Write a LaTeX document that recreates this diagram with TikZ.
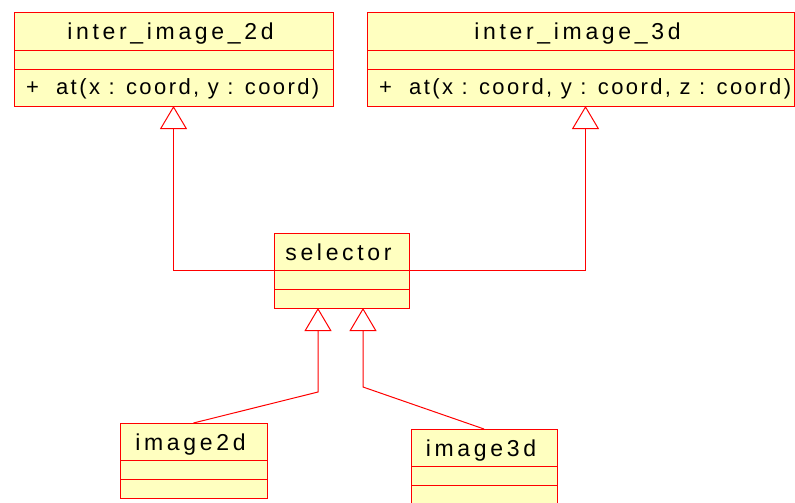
\documentclass[tikz,border=0pt]{standalone}
\usepackage{fontspec}
\setmainfont{Liberation Sans}
\newfontfamily\titlefont[LetterSpace=16]{Liberation Sans}
\newfontfamily\opfont[LetterSpace=11]{Liberation Sans}
\usetikzlibrary{arrows.meta,positioning}

\definecolor{umlfill}{RGB}{255,255,192}
\definecolor{umlline}{RGB}{255,0,0}

\tikzset{
  clase/.style={draw=umlline, fill=umlfill, line width=1pt, inner sep=0pt, outer sep=0pt, anchor=north west},
  titulo/.style={inner sep=0pt, anchor=base, font=\titlefont\fontsize{23}{27}\selectfont},
  metodo/.style={inner sep=0pt, anchor=base west, font=\opfont\fontsize{22}{26}\selectfont},
  herencia/.style={draw=umlline, line width=1pt, -{Triangle[length=23pt, width=27pt, fill=white]}},
}

\begin{document}
\begin{tikzpicture}[x=1pt,y=-1pt]
  \useasboundingbox (0,0) rectangle (795,503);

  % Clase inter_image_2d
  \node[clase, minimum width=319pt, minimum height=93pt] (c2d) at (14,13) {};
  \node[titulo] (t2d) at ([xshift=-3pt,yshift=-27pt]c2d.north) {inter\_image\_2d};
  \node[metodo] (m2d) at ([xshift=12pt,yshift=-82pt]c2d.north west) {+\ \ at(x : coord, y : coord)};

  % Clase inter_image_3d
  \node[clase, minimum width=427pt, minimum height=93pt] (c3d) at (367,13) {};
  \node[titulo] (t3d) at ([xshift=-3pt,yshift=-27pt]c3d.north) {inter\_image\_3d};
  \node[metodo] (m3d) at ([xshift=12pt,yshift=-82pt]c3d.north west) {+\ \ at(x : coord, y : coord, z : coord)};

  % Clase selector
  \node[clase, minimum width=135pt, minimum height=75pt] (sel) at (274,233) {};
  \node[titulo] (tsel) at ([xshift=-3pt,yshift=-27pt]sel.north) {selector};

  % Clases image2d e image3d
  \node[clase, minimum width=147pt, minimum height=75pt] (i2d) at (120,423) {};
  \node[titulo] (ti2d) at ([xshift=-3pt,yshift=-27pt]i2d.north) {image2d};
  \node[clase, minimum width=146pt, minimum height=76pt] (i3d) at (411,429) {};
  \node[titulo] (ti3d) at ([xshift=-3pt,yshift=-27pt]i3d.north) {image3d};

  % Compartimentos
  \foreach \c in {c2d,c3d,sel,i2d,i3d}
    \draw[umlline, line width=1pt]
      ([yshift=-37.5pt]\c.north west) -- ([yshift=-37.5pt]\c.north east)
      ([yshift=-56.5pt]\c.north west) -- ([yshift=-56.5pt]\c.north east);

  % Herencia
  \draw[herencia] (sel.west) -| (c2d.south);
  \draw[herencia] (sel.east) -| ([xshift=5pt]c3d.south);
  \coordinate (q2d) at (318,392);
  \coordinate (q3d) at (363,387);
  \draw[herencia] (i2d.north) -- (q2d) -- (q2d |- sel.south);
  \draw[herencia] (i3d.north) -- (q3d) -- (q3d |- sel.south);
\end{tikzpicture}
\end{document}
